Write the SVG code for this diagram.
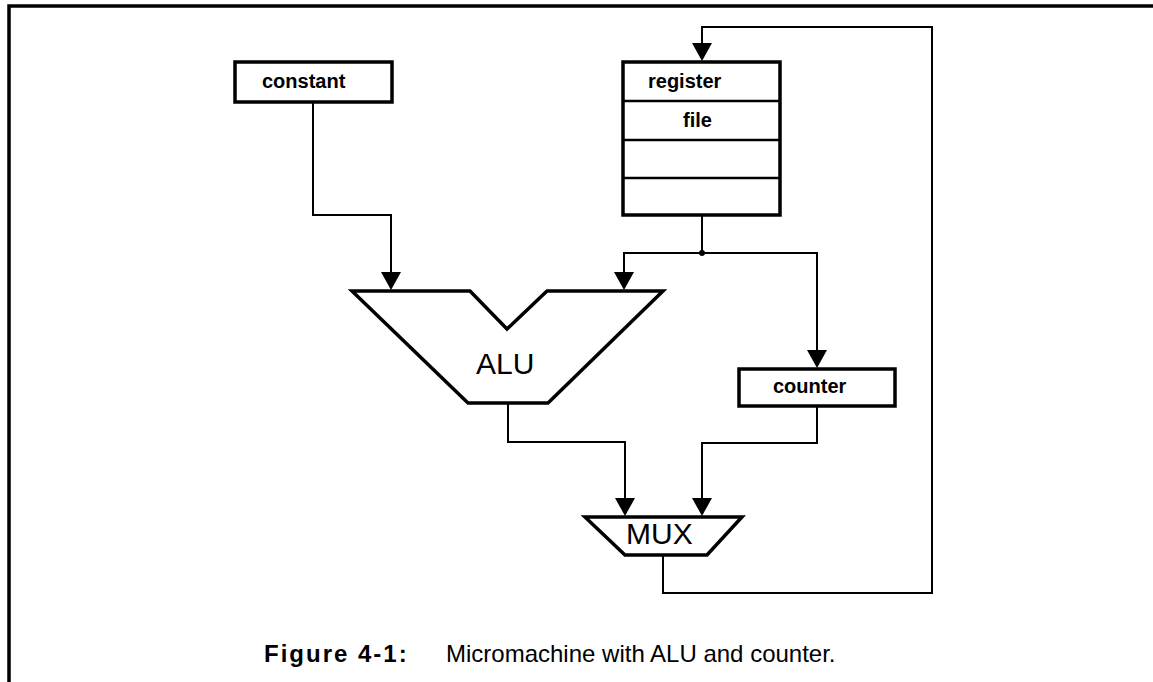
<svg xmlns="http://www.w3.org/2000/svg" width="1153" height="682" viewBox="0 0 1153 682">
  <style>
    .frame { fill: none; stroke: #000; stroke-width: 3.5; }
    .box { fill: #fff; stroke: #000; stroke-width: 3.5; }
    .div { stroke: #000; stroke-width: 2.5; }
    .wire { fill: none; stroke: #000; stroke-width: 2; }
    .lbl { font-family: "Liberation Sans", Arial, sans-serif; font-size: 20px; font-weight: bold; fill: #000; }
    .big { font-family: "Liberation Sans", Arial, sans-serif; font-size: 30px; fill: #000; }
    .cap { font-family: "Liberation Sans", Arial, sans-serif; font-size: 24px; fill: #000; }
  </style>
  <defs>
    <marker id="arrow" viewBox="0 0 18 20" refX="14" refY="10" markerWidth="18" markerHeight="20" markerUnits="userSpaceOnUse" orient="auto">
      <path d="M0,0 L18,10 L0,20 z" fill="#000"/>
    </marker>
  </defs>

  <rect width="1153" height="682" fill="#fff"/>

  <!-- page frame: top and left rules -->
  <path class="frame" d="M9,682 V6 H1153"/>

  <!-- connectors -->
  <g id="connectors">
    <path class="wire" d="M313,102 V215 H391 V286" marker-end="url(#arrow)"/>
    <path class="wire" d="M702,215 V253 H624 V286" marker-end="url(#arrow)"/>
    <path class="wire" d="M702,253 H817 V364" marker-end="url(#arrow)"/>
    <path class="wire" d="M508,403 V442 H625 V512" marker-end="url(#arrow)"/>
    <path class="wire" d="M817,406 V443 H702 V512" marker-end="url(#arrow)"/>
    <path class="wire" d="M663,555 V593 H932 V27 H702 V57" marker-end="url(#arrow)"/>
    <circle cx="702" cy="253" r="3" fill="#000"/>
  </g>

  <g id="constant">
    <rect class="box" x="235" y="62" width="157" height="40"/>
    <text class="lbl" x="262" y="88">constant</text>
  </g>

  <g id="register-file">
    <rect class="box" x="623" y="62" width="157" height="153"/>
    <line class="div" x1="623" y1="101" x2="780" y2="101"/>
    <line class="div" x1="623" y1="140" x2="780" y2="140"/>
    <line class="div" x1="623" y1="178" x2="780" y2="178"/>
    <text class="lbl" x="648" y="88">register</text>
    <text class="lbl" x="683" y="127">file</text>
  </g>

  <g id="alu">
    <polygon class="box" points="352,291 470,291 507,329 547,291 663,291 548,403 468,403"/>
    <text class="big" x="476" y="374">ALU</text>
  </g>

  <g id="counter">
    <rect class="box" x="739" y="369" width="156" height="37"/>
    <text class="lbl" x="773" y="393">counter</text>
  </g>

  <g id="mux">
    <polygon class="box" points="585,517 742,517 707,555 625,555"/>
    <text class="big" x="626" y="544">MUX</text>
  </g>

  <!-- caption -->
  <text class="cap" x="264" y="662"><tspan font-weight="bold" letter-spacing="2">Figure 4-1:</tspan><tspan x="446">Micromachine with ALU and counter.</tspan></text>
</svg>
